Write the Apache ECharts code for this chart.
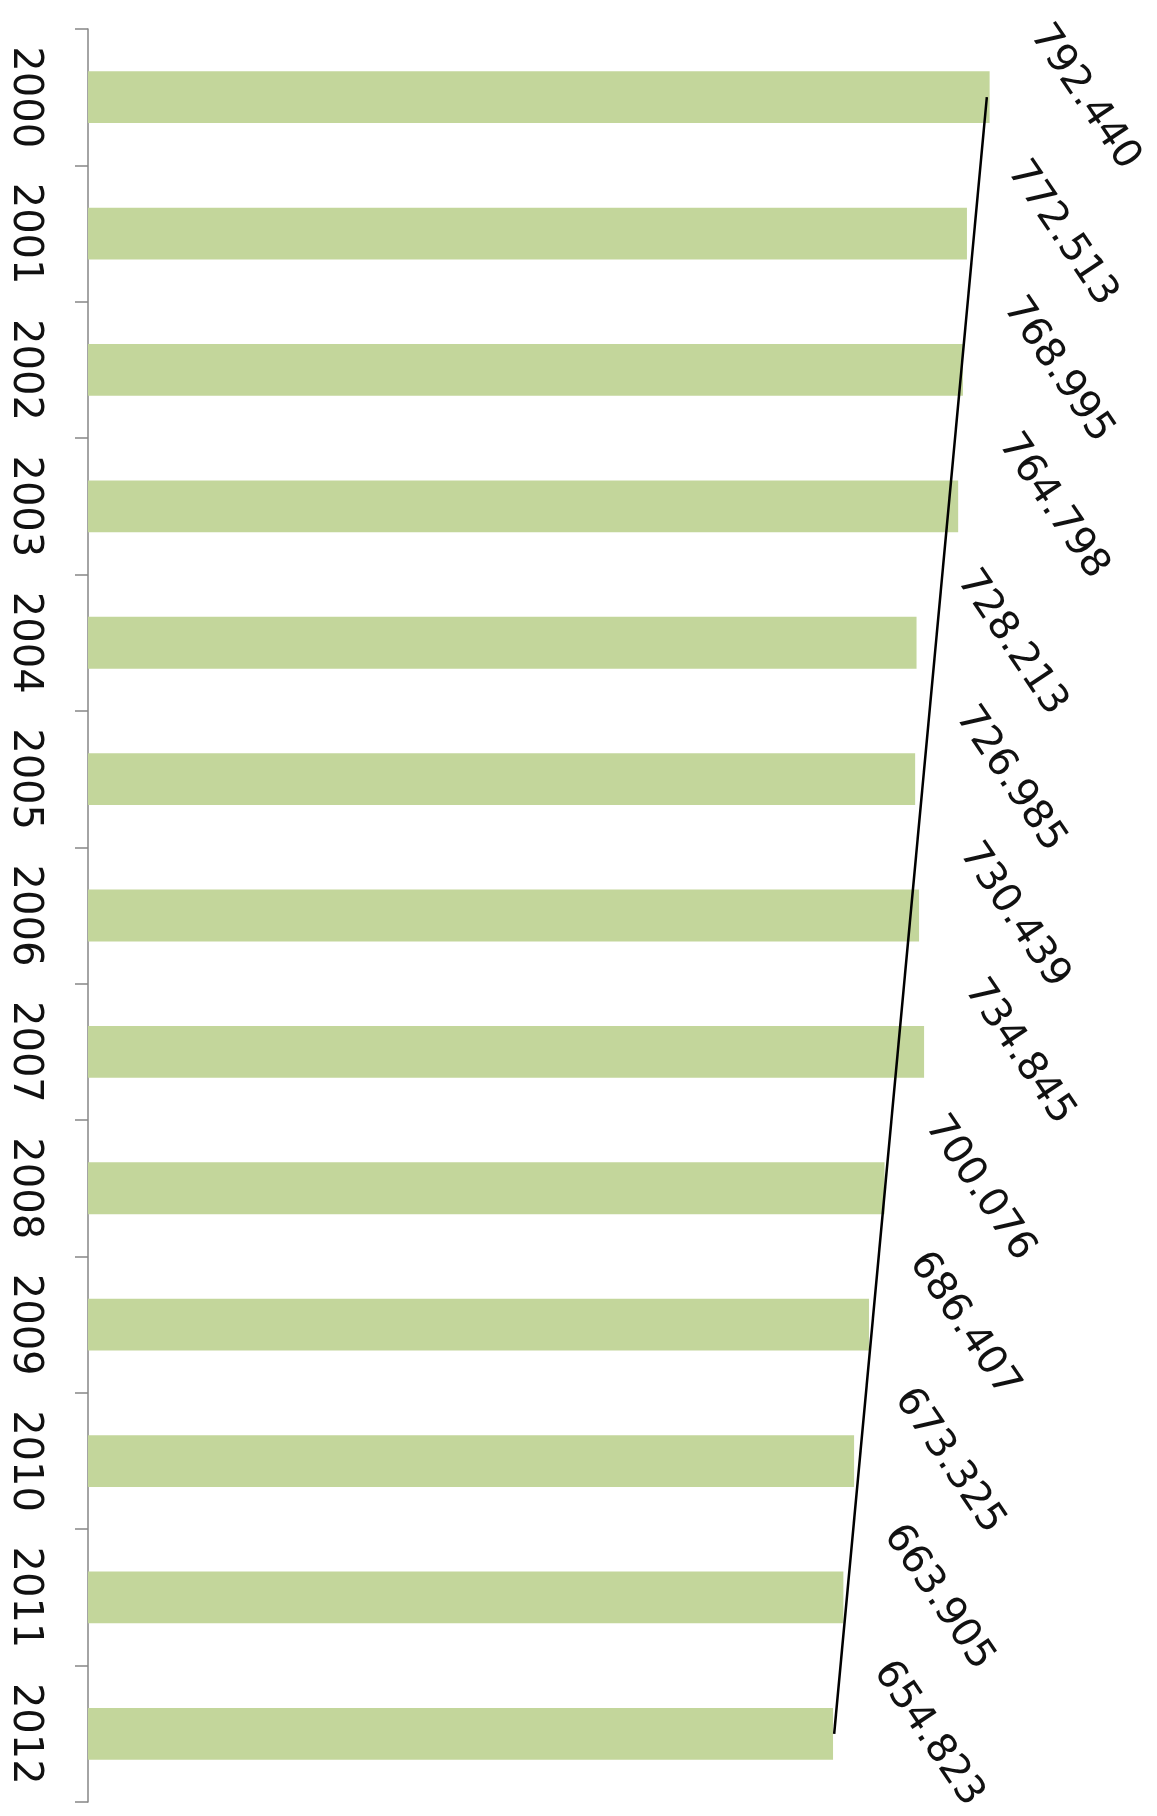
<!DOCTYPE html>
<html>
<head>
<meta charset="utf-8">
<script src="https://cdn.jsdelivr.net/npm/echarts@6/dist/echarts.min.js"></script>
<style>
html,body{margin:0;padding:0;background:#fff;}
#chart{width:1157px;height:1816px;}
</style>
</head>
<body>
<div id="chart"></div>
<script>
var years = ['2000','2001','2002','2003','2004','2005','2006','2007','2008','2009','2010','2011','2012'];
var values = [792.440, 772.513, 768.995, 764.798, 728.213, 726.985, 730.439, 734.845, 700.076, 686.407, 673.325, 663.905, 654.823];
var trendline = [790.0, null, null, null, null, null, null, null, null, null, null, null, 655.8];

var chart = echarts.init(document.getElementById('chart'));
chart.setOption({
  animation: false,
  backgroundColor: '#ffffff',
  grid: { left: 88, right: 45, top: 29, bottom: 14, containLabel: false },
  xAxis: {
    type: 'value', min: 0, max: 900, show: false,
    splitLine: { show: false }
  },
  yAxis: {
    type: 'category',
    data: years,
    inverse: true,
    boundaryGap: true,
    axisLine: { show: true, lineStyle: { color: '#868686', width: 1.5 } },
    axisTick: { show: true, length: 13, inside: false, lineStyle: { color: '#868686', width: 1.5 } },
    axisLabel: {
      rotate: -90,
      margin: 44,
      color: '#111',
      fontFamily: 'DejaVu Sans',
      fontSize: 40
    }
  },
  series: [
    {
      type: 'bar',
      data: values,
      barWidth: '38%',
      itemStyle: { color: '#c3d69b' },
      label: {
        show: true,
        position: 'right',
        distance: 95,
        rotate: -56,
        align: 'center',
        verticalAlign: 'middle',
        color: '#111',
        fontFamily: 'DejaVu Sans',
        fontSize: 40,
        formatter: function (p) { return p.value.toFixed(3); }
      },
      z: 2
    },
    {
      type: 'line',
      data: trendline,
      connectNulls: true,
      symbol: 'none',
      lineStyle: { color: '#000', width: 2.5 },
      z: 3,
      silent: true
    }
  ]
});
</script>
</body>
</html>
